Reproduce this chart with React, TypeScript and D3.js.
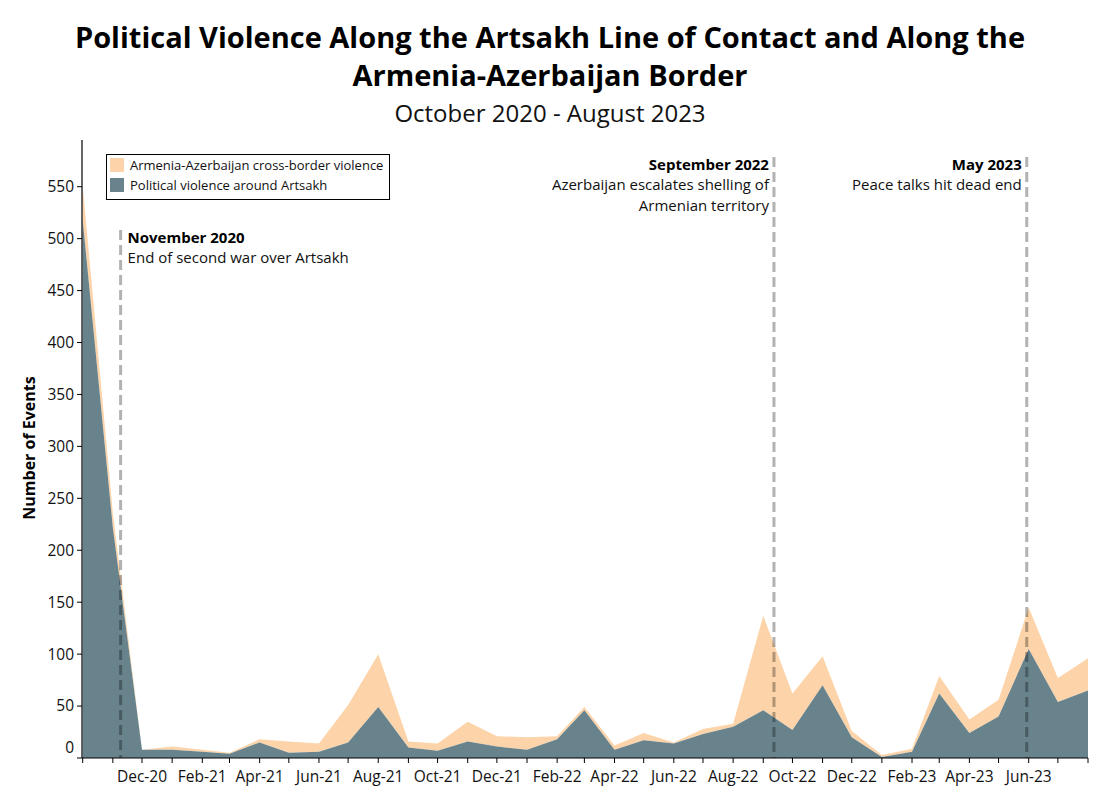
import React, { useEffect } from "react";
import * as d3 from "d3";

const months: string[] = [
  "2020-10","2020-11","2020-12","2021-01","2021-02","2021-03","2021-04","2021-05","2021-06","2021-07",
  "2021-08","2021-09","2021-10","2021-11","2021-12","2022-01","2022-02","2022-03","2022-04","2022-05",
  "2022-06","2022-07","2022-08","2022-09","2022-10","2022-11","2022-12","2023-01","2023-02","2023-03",
  "2023-04","2023-05","2023-06","2023-07","2023-08",
];
const artsakhViolence: number[] = [
  518, 222, 8, 8, 6, 4, 15, 5, 6, 15,
  49, 10, 7, 16, 11, 8, 18, 46, 8, 17,
  14, 23, 30, 46, 27, 70, 20, 1, 6, 62,
  24, 40, 105, 54, 65,
];
const crossBorderViolence: number[] = [
  33, 14, 0, 3, 2, 1, 3, 11, 8, 36,
  51, 6, 7, 19, 10, 12, 3, 3, 4, 7,
  1, 5, 3, 91, 35, 28, 6, 2, 3, 17,
  13, 16, 40, 23, 31,
];
const yTicks: number[] = [0, 50, 100, 150, 200, 250, 300, 350, 400, 450, 500, 550];
const seriesNames: string[] = ["Armenia-Azerbaijan cross-border violence", "Political violence around Artsakh"];
const annotations = [
  { date: "2020-11-09", title: "November 2020", lines: ["End of second war over Artsakh"], side: "right", top: 230 },
  { date: "2022-09-12", title: "September 2022", lines: ["Azerbaijan escalates shelling of", "Armenian territory"], side: "left", top: 157 },
  { date: "2023-05-30", title: "May 2023", lines: ["Peace talks hit dead end"], side: "left", top: 157 },
];

const FONT = "'Open Sans', sans-serif";
const DARK = "#68838c";
const PEACH = "#fdd4a9";

export default function App() {
  useEffect(() => {
    document.body.style.margin = "0";
  }, []);

  const parse = d3.timeParse("%Y-%m");
  const parseDay = d3.timeParse("%Y-%m-%d");
  const dates = months.map((m) => parse(m) as Date);

  const x = d3.scaleTime().domain([dates[0], dates[dates.length - 1]]).range([82.7, 1088]);
  const y = d3.scaleLinear().domain([0, 595]).range([758, 758 - 595 * 1.0387]);

  const rows = dates.map((d, i) => ({ date: d, artsakh: artsakhViolence[i], cross: crossBorderViolence[i] }));
  const stack = d3.stack<any>().keys(["artsakh", "cross"]);
  const layers = stack(rows);

  const area = d3
    .area<any>()
    .x((d) => x(d.data.date))
    .y0((d) => y(d[0]))
    .y1((d) => y(d[1]));

  const monthTicks = d3.timeMonth.range(dates[0], d3.timeMonth.offset(dates[dates.length - 1], 1));
  const fmt = d3.timeFormat("%b-%y");
  const labelTicks = monthTicks.filter((d, i) => i % 2 === 0 && i > 0 && i < monthTicks.length - 1);

  return (
    <svg width={1100} height={800} style={{ display: "block", background: "#fff" }} fontFamily={FONT}>
      <text x={550} y={48} textAnchor="middle" fontSize={29} fontWeight={700} fill="#000">
        Political Violence Along the Artsakh Line of Contact and Along the
      </text>
      <text x={550} y={86} textAnchor="middle" fontSize={29} fontWeight={700} fill="#000">
        Armenia-Azerbaijan Border
      </text>
      <text x={550} y={122} textAnchor="middle" fontSize={24} fill="#111">
        October 2020 - August 2023
      </text>

      {/* areas */}
      <path d={area(layers[1] as any) || ""} fill={PEACH} />
      <path d={area(layers[0] as any) || ""} fill={DARK} />

      {/* annotation lines */}
      {annotations.map((a, i) => {
        const ax = x(parseDay(a.date) as Date);
        return (
          <g key={i}>
            <line x1={ax} x2={ax} y1={a.top} y2={758} stroke="#000" strokeOpacity={0.3} strokeWidth={3} strokeDasharray="10,5" />
            <text
              x={a.side === "right" ? ax + 7 : ax - 5}
              y={a.top + 13}
              textAnchor={a.side === "right" ? "start" : "end"}
              fontSize={15}
              fontWeight={700}
              fill="#000"
            >
              {a.title}
            </text>
            {a.lines.map((l, j) => (
              <text
                key={j}
                x={a.side === "right" ? ax + 7 : ax - 5}
                y={a.top + 33 + j * 20.5}
                textAnchor={a.side === "right" ? "start" : "end"}
                fontSize={15}
                fill="#111"
              >
                {l}
              </text>
            ))}
          </g>
        );
      })}

      {/* y axis */}
      <line x1={82} x2={82} y1={140} y2={758} stroke="#000" strokeWidth={1.2} />
      {yTicks.map((t) => (
        <g key={t}>
          {t !== 0 && <line x1={77} x2={82} y1={y(t)} y2={y(t)} stroke="#000" />}
          <text x={74} y={y(t) + (t === 0 ? -10 : 0)} dy="0.35em" textAnchor="end" fontSize={15.5} fill="#111">
            {t}
          </text>
        </g>
      ))}
      <text transform={`translate(35,448) rotate(-90)`} textAnchor="middle" fontSize={16} fontWeight={700} fill="#000">
        Number of Events
      </text>

      {/* x axis */}
      <line x1={77} x2={1088} y1={758} y2={758} stroke="#000" strokeWidth={1.2} />
      {monthTicks.map((d, i) => (
        <line key={i} x1={x(d)} x2={x(d)} y1={758} y2={763} stroke="#000" />
      ))}
      {labelTicks.map((d, i) => (
        <text key={i} x={x(d)} y={782} textAnchor="middle" fontSize={15.5} fill="#111">
          {fmt(d)}
        </text>
      ))}

      {/* legend */}
      <rect x={106.5} y={154.5} width={283} height={45} fill="#fff" stroke="#000" strokeWidth={1} />
      <rect x={110} y={158} width={14} height={14} fill={PEACH} />
      <rect x={110} y={178} width={14} height={14} fill={DARK} />
      <text x={130} y={165} dy="0.35em" fontSize={13} fill="#111">{seriesNames[0]}</text>
      <text x={130} y={185} dy="0.35em" fontSize={13} fill="#111">{seriesNames[1]}</text>
    </svg>
  );
}
